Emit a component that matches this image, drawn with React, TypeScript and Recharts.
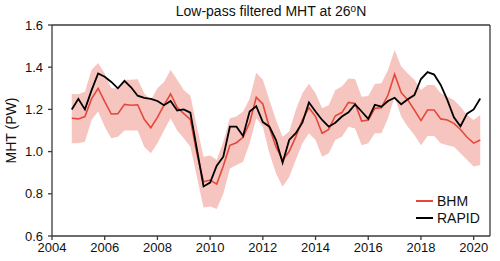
import { ComposedChart, Line, Area, XAxis, YAxis, Legend } from "recharts";

const time = [
  2004.75, 2005.0, 2005.25, 2005.5, 2005.75, 2006.0, 2006.25, 2006.5, 2006.75, 2007.0,
  2007.25, 2007.5, 2007.75, 2008.0, 2008.25, 2008.5, 2008.75, 2009.0, 2009.25, 2009.5,
  2009.75, 2010.0, 2010.25, 2010.5, 2010.75, 2011.0, 2011.25, 2011.5, 2011.75, 2012.0,
  2012.25, 2012.5, 2012.75, 2013.0, 2013.25, 2013.5, 2013.75, 2014.0, 2014.25, 2014.5,
  2014.75, 2015.0, 2015.25, 2015.5, 2015.75, 2016.0, 2016.25, 2016.5, 2016.75, 2017.0,
  2017.25, 2017.5, 2017.75, 2018.0, 2018.25, 2018.5, 2018.75, 2019.0, 2019.25, 2019.5,
  2019.75, 2020.0, 2020.25,
];

const bhm = [
  1.158, 1.155, 1.166, 1.25, 1.3, 1.237, 1.178, 1.18, 1.224, 1.22,
  1.222, 1.153, 1.113, 1.162, 1.22, 1.273, 1.21, 1.18, 1.153, 0.99,
  0.857, 0.865, 0.846, 0.932, 1.03, 1.042, 1.068, 1.137, 1.257, 1.226,
  1.113, 1.022, 0.96, 1.0, 1.07, 1.15, 1.208, 1.166, 1.087, 1.105,
  1.17, 1.185, 1.233, 1.228, 1.145, 1.15, 1.205, 1.208, 1.268, 1.367,
  1.28, 1.245, 1.197, 1.147, 1.197, 1.197, 1.155, 1.15, 1.134, 1.105,
  1.068, 1.04, 1.055,
];

const bhmHigh = [
  1.273, 1.272, 1.284, 1.387, 1.42, 1.37, 1.3, 1.3, 1.34, 1.34,
  1.343, 1.276, 1.245, 1.3, 1.33, 1.387, 1.34, 1.292, 1.265, 1.118,
  0.976, 0.982, 0.96, 1.047, 1.158, 1.166, 1.19, 1.25, 1.374, 1.34,
  1.245, 1.15, 1.07, 1.095, 1.197, 1.276, 1.322, 1.276, 1.205, 1.22,
  1.292, 1.308, 1.347, 1.344, 1.26, 1.263, 1.32, 1.324, 1.387, 1.482,
  1.403, 1.37, 1.34, 1.292, 1.316, 1.316, 1.276, 1.26, 1.245, 1.213,
  1.173, 1.15, 1.173,
];

const bhmLow = [
  1.04, 1.04, 1.047, 1.15, 1.19, 1.118, 1.063, 1.07, 1.1, 1.1,
  1.1, 1.023, 0.992, 1.04, 1.1, 1.158, 1.1, 1.063, 1.023, 0.88,
  0.735, 0.74, 0.728, 0.8, 0.92, 0.936, 0.952, 1.04, 1.158, 1.118,
  0.992, 0.897, 0.834, 0.88, 0.96, 1.04, 1.087, 1.055, 0.976, 0.992,
  1.055, 1.07, 1.118, 1.11, 1.03, 1.04, 1.087, 1.087, 1.158, 1.26,
  1.166, 1.118, 1.079, 1.03, 1.074, 1.074, 1.04, 1.03, 1.023, 0.992,
  0.96, 0.929, 0.936,
];

const rapid = [
  1.2, 1.25, 1.2, 1.29, 1.37, 1.355, 1.33, 1.3, 1.335, 1.305,
  1.265, 1.255, 1.25, 1.24, 1.22, 1.24, 1.195, 1.2, 1.185, 1.01,
  0.835, 0.853, 0.933, 0.976, 1.118, 1.118, 1.074, 1.19, 1.215, 1.14,
  1.118, 1.055, 0.947, 1.055, 1.087, 1.137, 1.233, 1.19, 1.15, 1.118,
  1.137, 1.166, 1.186, 1.224, 1.19, 1.155, 1.222, 1.213, 1.24, 1.255,
  1.224, 1.248, 1.268, 1.344, 1.377, 1.365, 1.316, 1.245, 1.163, 1.12,
  1.18, 1.2, 1.252,
];

const xTicks = [2004, 2006, 2008, 2010, 2012, 2014, 2016, 2018, 2020];
const yTicks = [0.6, 0.8, 1.0, 1.2, 1.4, 1.6];

const data = time.map((t, i) => ({
  t,
  bhm: bhm[i],
  rapid: rapid[i],
  band: [bhmLow[i], bhmHigh[i]],
}));

const font = "'Liberation Sans', Arial, sans-serif";
const axisColor = "#3a3a3a";
const red = "#e5483a";

function LegendBox({ payload }: any) {
  const items = (payload || []).filter((p: any) => p.type !== "none");
  return (
    <div style={{ fontFamily: font, fontSize: 14, color: "#111" }}>
      {items.map((p: any) => (
        <div key={p.value} style={{ display: "flex", alignItems: "center", height: 17 }}>
          <div style={{ width: 17, height: 2, background: p.color, marginRight: 4 }} />
          <span>{p.value}</span>
        </div>
      ))}
    </div>
  );
}

export default function App() {
  return (
    <div style={{ position: "absolute", left: 0, top: 0, width: 500, height: 261, background: "#fff" }}>
      <div
        style={{
          position: "absolute",
          left: 52,
          top: 3,
          width: 438,
          textAlign: "center",
          fontFamily: font,
          fontSize: 14,
          color: "#111",
        }}
      >
        Low-pass filtered MHT at 26<span style={{ fontSize: 10, verticalAlign: "4px" }}>o</span>N
      </div>
      <ComposedChart width={500} height={261} data={data} margin={{ top: 25, right: 10, bottom: 0, left: 0 }}>
        <XAxis
          dataKey="t"
          type="number"
          domain={[2004, 2020.62]}
          ticks={xTicks}
          stroke={axisColor}
          strokeWidth={1.3}
          tickSize={4}
          tickMargin={3}
          height={25}
          tick={{ fill: "#111", fontSize: 13, fontFamily: font }}
        />
        <XAxis
          xAxisId="top"
          dataKey="t"
          type="number"
          orientation="top"
          domain={[2004, 2020.62]}
          ticks={xTicks}
          stroke={axisColor}
          strokeWidth={1.3}
          mirror
          tickLine={false}
          tickFormatter={() => ""}
        />
        <YAxis
          domain={[0.6, 1.6]}
          ticks={yTicks}
          width={52}
          stroke={axisColor}
          strokeWidth={1.3}
          tickSize={4}
          tickMargin={5}
          tickFormatter={(v: number) => v.toFixed(1)}
          tick={{ fill: "#111", fontSize: 13, fontFamily: font }}
          label={{
            value: "MHT (PW)",
            angle: -90,
            position: "insideLeft",
            dx: 6,
            style: { textAnchor: "middle", fill: "#111", fontSize: 14, fontFamily: font },
          }}
        />
        <YAxis
          yAxisId="right"
          orientation="right"
          domain={[0.6, 1.6]}
          ticks={yTicks}
          mirror
          stroke={axisColor}
          strokeWidth={1.3}
          tickSize={4}
          tickFormatter={() => ""}
        />
        <Area
          dataKey="band"
          stroke="none"
          fill="#f6c5bf"
          fillOpacity={1}
          legendType="none"
          isAnimationActive={false}
        />
        <Line dataKey="bhm" name="BHM" stroke={red} strokeWidth={1.6} dot={false} isAnimationActive={false} />
        <Line dataKey="rapid" name="RAPID" stroke="#000" strokeWidth={1.8} dot={false} isAnimationActive={false} />
        <Legend
          layout="vertical"
          align="center"
          verticalAlign="middle"
          content={<LegendBox />}
          wrapperStyle={{ left: 416, top: 192, width: 80 }}
        />
      </ComposedChart>
    </div>
  );
}
